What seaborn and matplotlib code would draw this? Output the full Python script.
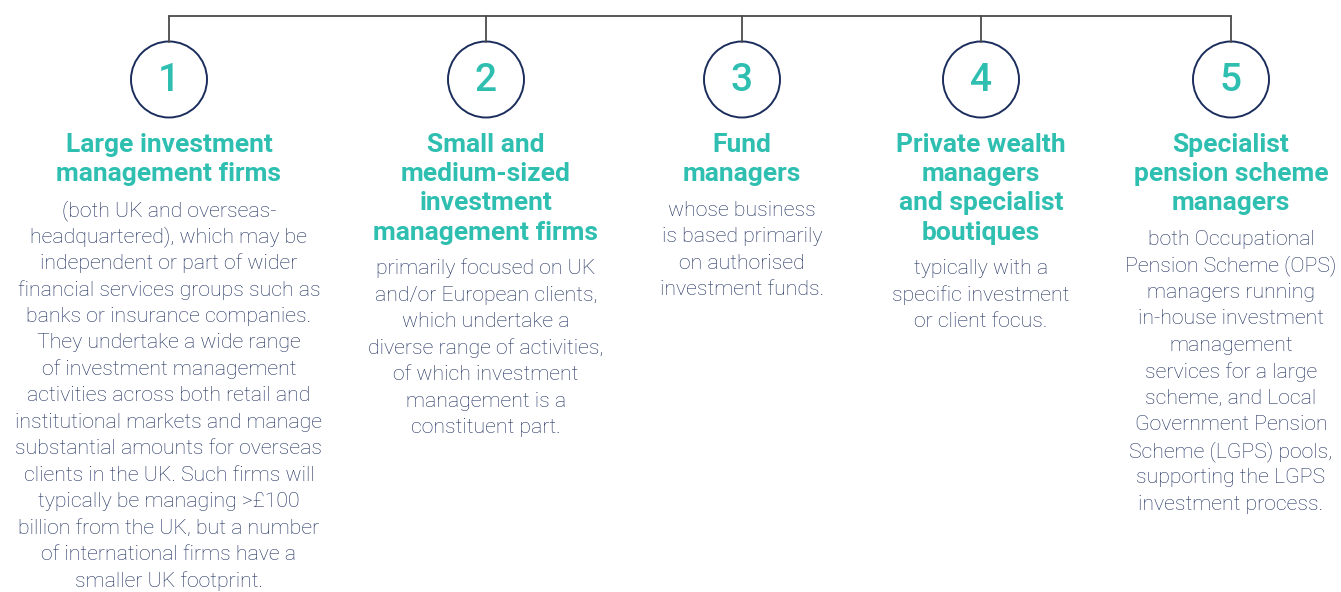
import matplotlib
matplotlib.use("Agg")
import matplotlib.pyplot as plt
from matplotlib.patches import Circle
import seaborn as sns

# Content of the five boxes
numbers = ["1", "2", "3", "4", "5"]
headings = [
    ["Large investment", "management firms"],
    ["Small and", "medium-sized", "investment", "management firms"],
    ["Fund", "managers"],
    ["Private wealth", "managers", "and specialist", "boutiques"],
    ["Specialist", "pension scheme", "managers"],
]
descriptions = [
    ["(both UK and overseas-", "headquartered), which may be", "independent or part of wider",
     "financial services groups such as", "banks or insurance companies.",
     "They undertake a wide range", "of investment management",
     "activities across both retail and", "institutional markets and manage",
     "substantial amounts for overseas", "clients in the UK. Such firms will",
     "typically be managing >£100", "billion from the UK, but a number",
     "of international firms have a", "smaller UK footprint."],
    ["primarily focused on UK", "and/or European clients,", "which undertake a",
     "diverse range of activities,", "of which investment", "management is a",
     "constituent part."],
    ["whose business", "is based primarily", "on authorised", "investment funds."],
    ["typically with a", "specific investment", "or client focus."],
    ["both Occupational", "Pension Scheme (OPS)", "managers running",
     "in-house investment", "management", "services for a large",
     "scheme, and Local", "Government Pension", "Scheme (LGPS) pools,",
     "supporting the LGPS", "investment process."],
]

# layout (pixels)
col_x = [169, 486, 742, 981, 1231]
line_y = 16
circle_y = 79.5
radius = 38
head_top = 145
head_step = 29.2
body_gap = 36
body_step = 26.5

teal = "#2ebfb1"
navy = "#1b2d5c"
grey = "#4a4a4a"

sns.set_theme(style="white")
plt.rcParams["font.family"] = ["Roboto", "DejaVu Sans"]

fig = plt.figure(figsize=(13.41, 5.92), dpi=100)
ax = fig.add_axes([0, 0, 1, 1])
ax.set_xlim(0, 1341)
ax.set_ylim(592, 0)
ax.axis("off")

# connector lines
sns.lineplot(x=[col_x[0], col_x[-1]], y=[line_y, line_y], ax=ax, color=grey, lw=1.3)
for x in col_x:
    ax.plot([x, x], [line_y, circle_y - radius], color=grey, lw=1.3)

for i, x in enumerate(col_x):
    ax.add_patch(Circle((x, circle_y), radius, facecolor="white", edgecolor=navy, lw=1.4))
    ax.text(x, circle_y + 1, numbers[i], ha="center", va="center", color=teal,
            fontsize=28, fontweight="medium")
    for j, line in enumerate(headings[i]):
        ax.text(x, head_top + j * head_step, line, ha="center", va="center",
                color=teal, fontsize=19, fontweight="bold")
    y0 = head_top + (len(headings[i]) - 1) * head_step + body_gap
    for j, line in enumerate(descriptions[i]):
        ax.text(x, y0 + j * body_step, line, ha="center", va="center",
                color=navy, fontsize=15.3, fontweight="light")

fig.savefig("out.png", dpi=100)
